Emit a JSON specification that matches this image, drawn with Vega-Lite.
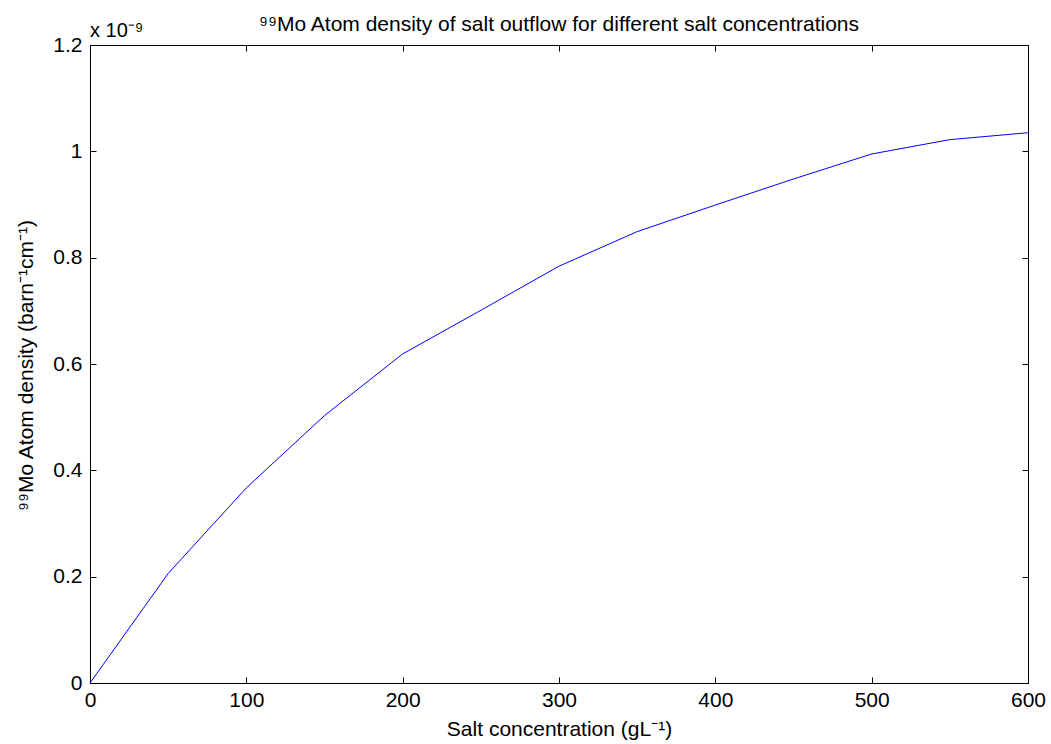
{
  "$schema": "https://vega.github.io/schema/vega-lite/v6.json",
  "autosize": {"type": "none"},
  "padding": {"left": 90, "top": 45, "right": 23, "bottom": 61},
  "width": 938,
  "height": 638,
  "background": "white",
  "title": {
    "text": "⁹⁹Mo Atom density of salt outflow for different salt concentrations",
    "font": "Liberation Sans",
    "fontSize": 21,
    "fontWeight": "normal",
    "color": "black",
    "offset": -14,
    "anchor": "middle"
  },
  "config": {
    "view": {"stroke": "black", "strokeWidth": 1},
    "axis": {
      "grid": false,
      "domainColor": "black",
      "tickColor": "black",
      "labelColor": "black",
      "titleColor": "black",
      "labelFont": "Liberation Sans",
      "titleFont": "Liberation Sans",
      "labelFontSize": 21,
      "titleFontSize": 21,
      "titleFontWeight": "normal",
      "tickSize": -6
    }
  },
  "datasets": {
    "curve": [
      {"c": 0, "d": 0.0},
      {"c": 50, "d": 0.206},
      {"c": 100, "d": 0.367},
      {"c": 150, "d": 0.503},
      {"c": 200, "d": 0.619},
      {"c": 250, "d": 0.701},
      {"c": 300, "d": 0.784},
      {"c": 350, "d": 0.849},
      {"c": 400, "d": 0.899},
      {"c": 450, "d": 0.948},
      {"c": 500, "d": 0.995},
      {"c": 550, "d": 1.022},
      {"c": 600, "d": 1.035}
    ],
    "note": [{"c": 0, "d": 1.2, "t": "x 10⁻⁹"}]
  },
  "layer": [
    {
      "data": {"name": "curve"},
      "mark": {"type": "line", "color": "#0000FF", "strokeWidth": 1},
      "encoding": {
        "x": {
          "field": "c", "type": "quantitative",
          "scale": {"domain": [0, 600], "nice": false, "zero": false},
          "axis": {"orient": "bottom", "format": "d", "values": [0, 100, 200, 300, 400, 500, 600], "title": "Salt concentration (gL⁻¹)", "labelPadding": 12, "titlePadding": 8, "labelFlush": false}
        },
        "y": {
          "field": "d", "type": "quantitative",
          "scale": {"domain": [0, 1.2], "nice": false, "zero": false},
          "axis": {"orient": "left", "format": "~r", "values": [0, 0.2, 0.4, 0.6, 0.8, 1, 1.2], "title": "⁹⁹Mo Atom density (barn⁻¹cm⁻¹)", "labelPadding": 14, "titlePadding": 16, "titleY": 320, "labelFlush": false}
        }
      }
    },
    {
      "data": {"name": "note"},
      "mark": {"type": "text", "align": "left", "baseline": "alphabetic", "dy": -8, "font": "Liberation Sans", "fontSize": 20, "color": "black"},
      "encoding": {
        "x": {
          "field": "c", "type": "quantitative",
          "axis": {"orient": "top", "values": [0, 100, 200, 300, 400, 500, 600], "labels": false, "title": null, "domain": false}
        },
        "y": {
          "field": "d", "type": "quantitative",
          "axis": {"orient": "right", "values": [0, 0.2, 0.4, 0.6, 0.8, 1, 1.2], "labels": false, "title": null, "domain": false}
        },
        "text": {"field": "t"}
      }
    }
  ],
  "resolve": {"axis": {"x": "independent", "y": "independent"}}
}
